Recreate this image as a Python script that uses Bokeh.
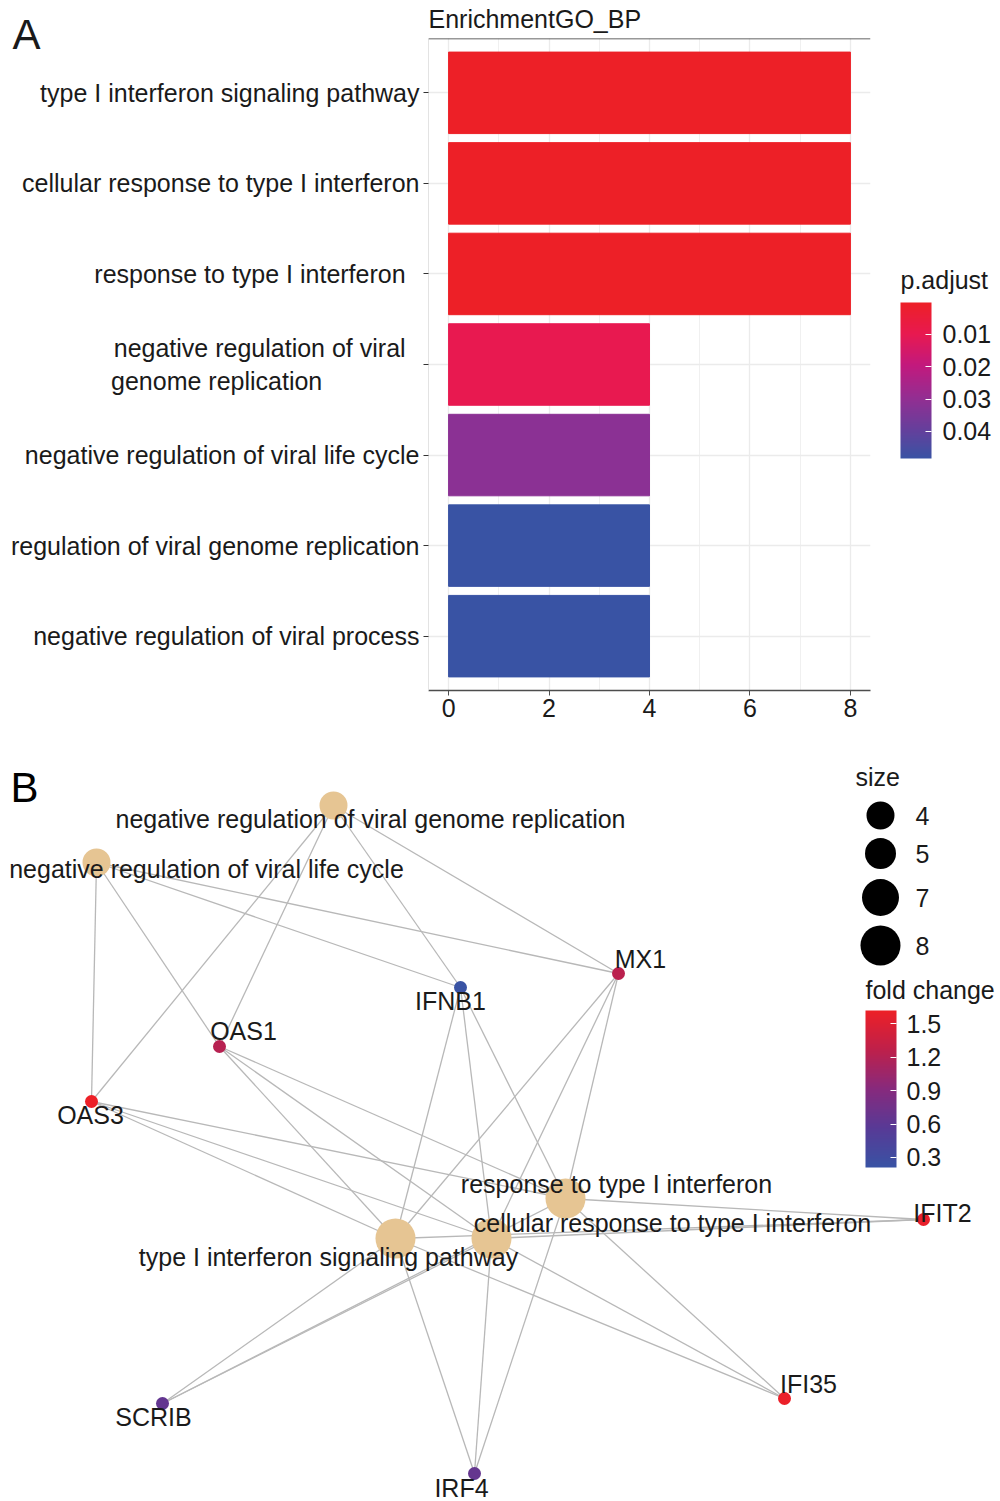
import numpy as np
from bokeh.plotting import figure
from bokeh.models import (Range1d, LinearColorMapper, ColorBar, FixedTicker,
                          SingleIntervalTicker, Span, ColumnDataSource)
from bokeh.layouts import column
from bokeh.embed import file_html
from bokeh.resources import INLINE
from bokeh.core.properties import value
from bokeh.transform import transform

FONT = "Liberation Sans"
TXT = "#1A1A1A"

# ---------------- Panel A data ----------------
go_terms = ["type I interferon signaling pathway",
            "cellular response to type I interferon",
            "response to type I interferon",
            "negative regulation of viral genome replication",
            "negative regulation of viral life cycle",
            "regulation of viral genome replication",
            "negative regulation of viral process"]
go_tick_labels = ["type I interferon signaling pathway",
                  "cellular response to type I interferon",
                  "response to type I interferon\u00a0\u00a0",
                  "negative regulation of viral\u00a0\u00a0\ngenome replication" + "\u00a0" * 14,
                  "negative regulation of viral life cycle",
                  "regulation of viral genome replication",
                  "negative regulation of viral process"]
go_counts = [8, 8, 8, 4, 4, 4, 4]
go_padj = [0.00012, 0.00012, 0.00015, 0.0098, 0.0316, 0.0484, 0.0484]
padj_ticks = [0.01, 0.02, 0.03, 0.04]
count_ticks = [0, 2, 4, 6, 8]

# ---------------- Panel B data ----------------
cat_names = ["type I interferon signaling pathway",
             "cellular response to type I interferon",
             "response to type I interferon",
             "negative regulation of viral genome replication",
             "negative regulation of viral life cycle"]
cat_size = [8, 8, 8, 4, 4]
cat_x = [3.87, 4.83, 5.57, 3.25, 0.88]
cat_y = [2.55, 2.55, 2.95, 6.88, 6.31]
gene_names = ["MX1", "IFNB1", "OAS1", "OAS3", "IFIT2", "IFI35", "SCRIB", "IRF4"]
gene_fc = [1.25, 0.21, 1.22, 1.62, 1.58, 1.60, 0.64, 0.66]
gene_x = [6.10, 4.52, 2.11, 0.83, 9.15, 7.76, 1.54, 4.66]
gene_y = [5.20, 5.06, 4.47, 3.92, 2.74, 0.95, 0.90, 0.20]
all_genes = ["MX1", "IFNB1", "OAS1", "OAS3", "IFIT2", "IFI35", "SCRIB", "IRF4"]
viral_genes = ["MX1", "IFNB1", "OAS1", "OAS3"]
cat_genes = {
    "type I interferon signaling pathway": all_genes,
    "cellular response to type I interferon": all_genes,
    "response to type I interferon": all_genes,
    "negative regulation of viral genome replication": viral_genes,
    "negative regulation of viral life cycle": viral_genes,
}
size_breaks = [4, 5, 7, 8]
fc_ticks = [0.3, 0.6, 0.9, 1.2, 1.5]

# label placement (repel offsets, layout units)
cat_lab_dx = [-0.67, 1.81, 0.51, 0.37, 1.10]
cat_lab_dy = [-0.18, 0.16, 0.15, -0.13, -0.06]
gene_lab_dx = [0.22, -0.10, 0.24, -0.01, 0.19, 0.24, -0.09, -0.13]
gene_lab_dy = [0.15, -0.13, 0.16, -0.13, 0.07, 0.15, -0.13, -0.14]


def ramp(anchors, n=256):
    a = np.array(anchors, float)
    t = np.linspace(0, 1, len(a))
    s = np.linspace(0, 1, n)
    ch = [np.interp(s, t, a[:, k]) for k in range(3)]
    return ["#%02x%02x%02x" % (int(round(ch[0][i])), int(round(ch[1][i])), int(round(ch[2][i])))
            for i in range(n)]


# blue (high p) -> red (low p)
padj_pal = ramp([(57, 83, 164), (105, 62, 155), (150, 45, 145), (195, 25, 125),
                 (232, 25, 80), (237, 32, 39)])
# blue (low fc) -> red (high fc)
fc_pal = ramp([(57, 83, 164), (88, 58, 150), (135, 42, 125), (190, 32, 75), (237, 32, 39)])


def title_only_bar(text, mapper, x, y, size):
    """Colour-bar annotation showing only its title: free text outside the frame."""
    return ColorBar(color_mapper=mapper, orientation="horizontal", location=(x, y),
                    width=20, height=1, padding=0, margin=0, scale_alpha=0,
                    ticker=FixedTicker(ticks=[]), major_tick_line_color=None,
                    minor_tick_line_color=None, major_label_text_font_size="0px",
                    label_standoff=0, bar_line_color=None, border_line_color=None,
                    background_fill_alpha=0, title=text, title_text_font=FONT,
                    title_text_font_size=size, title_text_font_style="normal",
                    title_text_color=TXT, title_standoff=0)


# ================= Panel A =================
n = len(go_terms)
ypos = [n - i for i in range(n)]
srcA = ColumnDataSource(dict(y=ypos, count=go_counts, padj=go_padj, term=go_terms))
padj_mapper = LinearColorMapper(palette=padj_pal, low=max(go_padj), high=min(go_padj))

pA = figure(width=1000, height=743, x_range=Range1d(-0.4, 8.4), y_range=Range1d(0.4, n + 0.6),
            output_backend="svg", toolbar_location=None,
            min_border_left=428, min_border_right=130, min_border_top=38, min_border_bottom=53)
pA.outline_line_color = None
pA.background_fill_color = "white"
pA.border_fill_color = "white"

pA.title.text = "EnrichmentGO_BP"
pA.title.align = "left"
pA.title.vertical_align = "top"
pA.title.text_font = FONT
pA.title.text_font_size = "25px"
pA.title.text_font_style = "normal"
pA.title.text_color = TXT
pA.title.standoff = 8

pA.hbar(y="y", right="count", left=0, height=0.9, source=srcA,
        fill_color=transform("padj", padj_mapper), line_color=transform("padj", padj_mapper))

xt = SingleIntervalTicker(interval=2, num_minor_ticks=2)
pA.xaxis.ticker = xt
pA.xgrid.ticker = xt
pA.xaxis.major_label_text_font = FONT
pA.xaxis.major_label_text_font_size = "25px"
pA.xaxis.major_label_text_color = TXT
pA.xaxis.axis_line_color = "#4D4D4D"
pA.xaxis.axis_line_width = 1.6
pA.xaxis.major_tick_line_color = "#4D4D4D"
pA.xaxis.major_tick_out = 5
pA.xaxis.major_tick_in = 0
pA.xaxis.minor_tick_line_color = None
pA.xaxis.major_label_standoff = 3

yt = FixedTicker(ticks=ypos)
pA.yaxis.ticker = yt
pA.ygrid.ticker = yt
pA.yaxis.major_label_overrides = {ypos[i]: go_tick_labels[i] for i in range(n)}
pA.yaxis.major_label_text_font = FONT
pA.yaxis.major_label_text_font_size = "25px"
pA.yaxis.major_label_text_color = TXT
pA.yaxis.axis_line_color = "#E3E3E3"
pA.yaxis.major_tick_line_color = "#333333"
pA.yaxis.major_tick_out = 5
pA.yaxis.major_tick_in = 0
pA.yaxis.minor_tick_line_color = None
pA.yaxis.major_label_standoff = 4

pA.xgrid.grid_line_color = "#EBEBEB"
pA.xgrid.grid_line_width = 1.3
pA.xgrid.minor_grid_line_color = "#F0F0F0"
pA.xgrid.minor_grid_line_width = 1.0
pA.ygrid.grid_line_color = "#EBEBEB"
pA.ygrid.grid_line_width = 1.3

pA.add_layout(Span(location=n + 0.6, dimension="width", line_color="#333333", line_width=1.6))

cbA = ColorBar(color_mapper=padj_mapper, ticker=FixedTicker(ticks=padj_ticks),
               location=(472, 232), orientation="vertical", width=31, height=156,
               padding=0, margin=0,
               major_label_text_font=FONT, major_label_text_font_size="25px",
               major_label_text_color=TXT, label_standoff=11,
               major_tick_line_color="white", major_tick_in=6, major_tick_out=0,
               minor_tick_line_color=None, bar_line_color=None, border_line_color=None,
               background_fill_alpha=0)
pA.add_layout(cbA)
pA.add_layout(title_only_bar("p.adjust", padj_mapper, 472, 396, "25px"))
pA.add_layout(title_only_bar("A", padj_mapper, -416, 632, "42px"))

# ================= Panel B =================
pB = figure(width=1000, height=758, x_range=Range1d(-0.08, 9.92), y_range=Range1d(-0.08, 7.5),
            output_backend="svg", toolbar_location=None, min_border=0,
            min_border_left=0, min_border_right=0, min_border_top=0, min_border_bottom=0,
            x_axis_location=None, y_axis_location=None)
pB.grid.visible = False
pB.outline_line_color = None
pB.background_fill_color = "white"
pB.border_fill_color = "white"

for _p in (pA, pB):
    try:
        _p.frame_align = False
    except Exception:
        pass

gpos = {g: (gene_x[i], gene_y[i]) for i, g in enumerate(gene_names)}
cpos = {c: (cat_x[i], cat_y[i]) for i, c in enumerate(cat_names)}
ex0, ey0, ex1, ey1 = [], [], [], []
for c, genes in cat_genes.items():
    for g in genes:
        ex0.append(cpos[c][0]); ey0.append(cpos[c][1])
        ex1.append(gpos[g][0]); ey1.append(gpos[g][1])
pB.segment(x0=ex0, y0=ey0, x1=ex1, y1=ey1, line_color="#B8B8B8", line_width=1.3)


def size_px(s):
    return 16 + 3 * np.asarray(s, float)


pB.scatter(x=cat_x, y=cat_y, size=size_px(cat_size), fill_color="#E6C593",
           line_color=None)

fc_mapper = LinearColorMapper(palette=fc_pal, low=min(gene_fc), high=max(gene_fc))
srcG = ColumnDataSource(dict(x=gene_x, y=gene_y, fc=gene_fc, name=gene_names))
pB.scatter(x="x", y="y", size=13, source=srcG, fill_color=transform("fc", fc_mapper),
           line_color=None)

pB.text(x=[cat_x[i] + cat_lab_dx[i] for i in range(len(cat_names))],
        y=[cat_y[i] + cat_lab_dy[i] for i in range(len(cat_names))],
        text=cat_names, text_font=value(FONT), text_font_size="25px", text_color=TXT,
        text_align="center", text_baseline="middle")
pB.text(x=[gene_x[i] + gene_lab_dx[i] for i in range(len(gene_names))],
        y=[gene_y[i] + gene_lab_dy[i] for i in range(len(gene_names))],
        text=gene_names, text_font=value(FONT), text_font_size="25px", text_color=TXT,
        text_align="center", text_baseline="middle")

pB.text(x=[0.02], y=[7.06], text=["B"], text_font=value(FONT), text_font_size="42px",
        text_color="black", text_align="left", text_baseline="middle")

# size legend
leg_y = [6.78, 6.40, 5.96, 5.48]
pB.text(x=[8.47], y=[7.17], text=["size"], text_font=value(FONT), text_font_size="25px",
        text_color=TXT, text_align="left", text_baseline="middle")
pB.scatter(x=[8.72] * len(size_breaks), y=leg_y, size=size_px(size_breaks),
           fill_color="black", line_color=None)
pB.text(x=[9.07] * len(size_breaks), y=leg_y, text=[str(s) for s in size_breaks],
        text_font=value(FONT), text_font_size="25px", text_color=TXT,
        text_align="left", text_baseline="middle")

pB.text(x=[8.57], y=[5.04], text=["fold change"], text_font=value(FONT),
        text_font_size="25px", text_color=TXT, text_align="left", text_baseline="middle")
cbB = ColorBar(color_mapper=fc_mapper, ticker=FixedTicker(ticks=fc_ticks),
               location=(865, 334), orientation="vertical", width=31, height=157,
               padding=0, margin=0,
               major_label_text_font=FONT, major_label_text_font_size="25px",
               major_label_text_color=TXT, label_standoff=10,
               major_tick_line_color="white", major_tick_in=6, major_tick_out=0,
               minor_tick_line_color=None, bar_line_color=None, border_line_color=None,
               background_fill_alpha=0)
pB.add_layout(cbB)

layout = column(pA, pB, spacing=0)
open("out.html", "w").write(file_html(layout, INLINE))
